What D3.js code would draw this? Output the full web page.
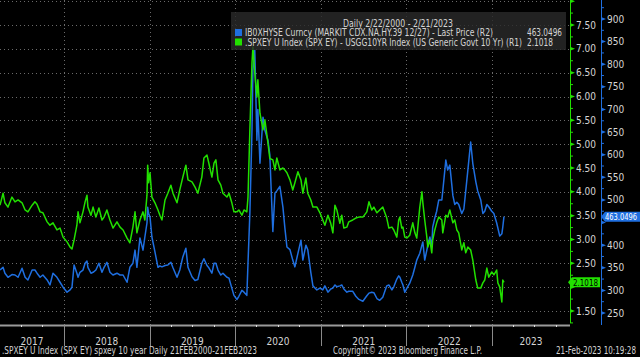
<!DOCTYPE html>
<html><head><meta charset="utf-8">
<script src="https://cdn.jsdelivr.net/npm/d3@7/dist/d3.min.js"></script>
<style>
html,body{margin:0;padding:0;background:#000;overflow:hidden;}
svg{display:block;}
text{font-family:"Liberation Sans Narrow","Arial Narrow","DejaVu Sans Condensed",sans-serif;}
</style></head><body>
<svg id="c" width="640" height="357"></svg>
<script>
const dates = [
"2017-04-03","2017-04-16","2017-04-24","2017-05-07","2017-05-24","2017-06-06","2017-06-19","2017-07-06","2017-07-19","2017-07-31","2017-08-18","2017-08-30","2017-09-08","2017-09-21","2017-10-03","2017-10-21","2017-11-02","2017-11-15","2017-12-02","2017-12-15","2017-12-28",
"2018-01-14","2018-01-27","2018-02-04","2018-02-13","2018-02-25","2018-03-02","2018-03-10","2018-03-23","2018-04-01","2018-04-09","2018-04-13","2018-04-26","2018-05-05","2018-05-17","2018-05-30","2018-06-12","2018-06-21","2018-07-03","2018-07-16","2018-07-29","2018-08-15","2018-08-28","2018-09-10","2018-09-27","2018-10-09","2018-10-22","2018-10-31","2018-11-08","2018-11-21","2018-12-04","2018-12-12","2018-12-21","2018-12-24","2018-12-28",
"2019-01-03","2019-01-11","2019-01-24","2019-02-06","2019-02-14","2019-02-23","2019-03-08","2019-03-20","2019-04-02","2019-04-11","2019-04-28","2019-05-10","2019-05-23","2019-06-05","2019-06-14","2019-07-01","2019-07-14","2019-07-26","2019-08-12","2019-08-21","2019-09-03","2019-09-11","2019-09-24","2019-10-03","2019-10-11","2019-10-20","2019-11-01","2019-11-10","2019-11-27","2019-12-06","2019-12-18","2019-12-27",
"2020-01-09","2020-01-17","2020-01-30","2020-02-08","2020-02-20","2020-02-25","2020-03-04","2020-03-13","2020-03-17","2020-03-25","2020-04-03","2020-04-07","2020-04-16","2020-04-29","2020-05-07","2020-05-20","2020-05-28","2020-06-10","2020-06-19","2020-06-27","2020-07-10","2020-07-23","2020-07-31","2020-08-09","2020-08-22","2020-09-03","2020-09-12","2020-09-25","2020-10-08","2020-10-16","2020-10-29","2020-11-06","2020-11-19","2020-11-28","2020-12-15","2020-12-28",
"2021-01-09","2021-01-18","2021-01-31","2021-02-12","2021-02-21","2021-03-02","2021-03-10","2021-03-23","2021-03-31","2021-04-09","2021-04-22","2021-04-30","2021-05-17","2021-05-30","2021-06-12","2021-06-29","2021-07-16","2021-07-25","2021-08-06","2021-08-15","2021-08-28","2021-09-09","2021-09-22","2021-10-09","2021-10-18","2021-10-31","2021-11-08","2021-11-21","2021-11-29","2021-12-04","2021-12-12","2021-12-17","2021-12-25",
"2022-01-03","2022-01-15","2022-01-28","2022-02-06","2022-02-14","2022-02-27","2022-03-08","2022-03-12","2022-03-20","2022-03-29","2022-04-02","2022-04-11","2022-04-19","2022-04-23","2022-05-02","2022-05-10","2022-05-19","2022-06-01","2022-06-05","2022-06-18","2022-06-26","2022-07-05","2022-07-18","2022-07-26","2022-08-04","2022-08-12","2022-08-25","2022-09-03","2022-09-11","2022-09-20","2022-10-02","2022-10-11","2022-10-24","2022-11-01","2022-11-14","2022-11-23","2022-12-01","2022-12-10","2022-12-18","2022-12-31",
"2023-01-09","2023-01-21","2023-01-26","2023-02-03","2023-02-12","2023-02-16","2023-02-21"
];
// .SPXEY U Index (SPX EY) - USGG10YR Index (R1)
const spreadValues = [
3.72,3.97,3.77,3.68,3.89,3.79,3.83,3.77,3.62,3.58,3.72,3.79,3.74,3.58,3.56,3.37,3.30,3.35,3.20,3.24,3.05,
2.95,2.84,2.80,2.99,3.30,3.58,3.35,3.58,3.79,3.93,3.68,3.51,3.68,3.47,3.66,3.41,3.47,3.62,3.41,3.24,3.37,3.26,3.20,3.03,2.93,3.26,3.58,3.14,3.41,3.58,3.41,3.93,4.56,4.19,
4.40,3.89,3.77,3.62,3.51,3.41,3.83,3.97,4.14,3.97,3.77,4.04,4.31,4.56,4.25,4.21,4.10,3.97,4.31,4.71,4.77,4.60,4.31,4.60,4.67,4.25,4.14,3.97,3.89,3.97,3.77,3.58,
3.58,3.62,3.51,3.62,3.58,3.89,5.30,6.70,7.04,6.49,5.99,6.35,5.65,5.30,5.51,5.03,4.70,4.67,4.46,4.71,4.46,4.50,4.46,4.40,4.25,4.04,4.19,4.42,4.25,3.97,4.29,3.97,3.83,3.68,3.68,3.56,
3.41,3.30,3.51,3.34,3.14,3.72,3.62,3.34,3.51,3.24,3.26,3.37,3.41,3.45,3.47,3.47,3.58,3.79,3.62,3.68,3.56,3.62,3.68,3.45,3.24,3.26,3.20,3.05,3.41,3.47,3.24,3.26,3.05,
3.03,3.09,3.35,3.14,3.03,3.68,4.00,3.77,3.41,3.05,2.84,2.99,2.72,2.99,3.20,3.35,3.47,3.41,3.14,3.51,3.47,3.62,3.35,3.41,3.20,3.14,2.78,2.93,2.72,2.84,2.78,2.57,2.15,1.98,1.98,2.09,2.15,2.40,2.21,2.32,
2.26,2.36,2.09,2.00,1.69,2.15,2.1018
];
// IB0XHYSE Curncy - Last Price (R2)
const cdxValues = [
345,351,338,329,335,334,329,349,329,323,345,345,338,329,334,323,312,338,329,318,307,
296,301,307,356,338,329,340,345,360,365,351,338,340,345,360,340,351,362,340,334,338,334,334,318,351,360,389,351,416,389,418,449,484,470,
462,418,385,351,354,352,355,356,362,350,329,345,374,393,351,330,322,324,360,370,355,350,338,360,360,345,334,338,329,327,305,289,
280,287,300,296,289,360,471,654,787,831,632,700,581,683,654,632,600,430,515,520,530,484,440,396,390,367,352,382,411,367,400,390,340,310,301,305,
301,310,296,303,305,312,308,310,312,303,296,298,298,287,280,276,288,294,296,295,282,278,285,310,312,301,308,325,332,329,318,312,296,
305,316,334,351,367,382,400,407,367,389,400,418,396,440,460,475,500,500,520,588,566,577,510,490,495,490,470,480,520,566,628,581,540,520,500,470,475,490,485,475,
470,449,438,420,425,440,463.0496
];
const spreadTicks = [1.5,2.0,2.5,3.0,3.5,4.0,4.5,5.0,5.5,6.0,6.5,7.0,7.5,8.0];
const spreadMinor = [1.25,1.75,2.25,2.75,3.25,3.75,4.25,4.75,5.25,5.75,6.25,6.75,7.25,7.75];
const cdxTicks = [250,300,350,400,450,500,550,600,650,700,750,800,850,900];
const cdxMinor = [275,325,375,425,475,525,575,625,675,725,775,825,875,925];
const yearLabels = ["2017","2018","2019","2020","2021","2022","2023"];
const legendTitle = "Daily 2/22/2000 - 2/21/2023";
const legendItems = [
  {name:"IB0XHYSE Curncy (MARKIT CDX.NA.HY.39 12/27) - Last Price (R2)", last:"463.0496", color:"#1f6fe0"},
  {name:".SPXEY U Index (SPX EY) - USGG10YR Index (US Generic Govt 10 Yr) (R1)", last:"2.1018", color:"#22e000"}
];
const footerLeft = ".SPXEY U Index (SPX EY) spxey 10 year  Daily 21FEB2000-21FEB2023";
const footerMid = "Copyright\u00A9 2023 Bloomberg Finance L.P.";
const footerRight = "21-Feb-2023 10:19:28";

const parse = d3.timeParse("%Y-%m-%d");
const BLUE = "#1f6fe0", GREEN = "#22e000", TXT = "#d4d4d4";
const svg = d3.select("#c");
const plotR = 570, plotB = 325;

const x = d3.scaleTime().domain([new Date(2018,0,1), new Date(2023,0,1)]).range([64, 492]);
const yG = d3.scaleLinear().domain([1.5, 7.5]).range([311, 25]);
const yB = d3.scaleLinear().domain([250, 900]).range([313, 19]);

// fit a text to a measured width (Bloomberg's terminal font is very narrow)
function fit(sel, w){ return sel.attr("textLength", w).attr("lengthAdjust","spacingAndGlyphs"); }

svg.append("rect").attr("width",640).attr("height",357).attr("fill","#000");

// horizontal grid
svg.append("g").selectAll("line").data(spreadTicks).join("line")
  .attr("x1",0).attr("x2",plotR).attr("y1",d=>Math.round(yG(d))+0.5).attr("y2",d=>Math.round(yG(d))+0.5)
  .attr("stroke","#6a6a6a").attr("stroke-width",1).attr("stroke-dasharray","1,3");
// vertical grid at year boundaries
const yearStarts = d3.range(2018, 2024).map(yr => new Date(yr,0,1));
svg.append("g").selectAll("line").data(yearStarts).join("line")
  .attr("x1",d=>Math.round(x(d))+0.5).attr("x2",d=>Math.round(x(d))+0.5).attr("y1",0).attr("y2",plotB)
  .attr("stroke","#6a6a6a").attr("stroke-width",1).attr("stroke-dasharray","1,3");

// series
const rows = dates.map((d,i)=>({date:parse(d), g:spreadValues[i], b:cdxValues[i]}));
svg.append("path").datum(rows).attr("fill","none").attr("stroke",BLUE).attr("stroke-width",1.5)
  .attr("stroke-linejoin","round")
  .attr("d", d3.line().x(d=>x(d.date)).y(d=>yB(d.b)));
svg.append("path").datum(rows).attr("fill","none").attr("stroke",GREEN).attr("stroke-width",1.5)
  .attr("stroke-linejoin","round")
  .attr("d", d3.line().x(d=>x(d.date)).y(d=>yG(d.g)));

// bottom axis
svg.append("line").attr("x1",0).attr("x2",plotR).attr("y1",plotB+0.5).attr("y2",plotB+0.5)
  .attr("stroke","#9a9a9a").attr("stroke-width",2);
const quarters = d3.timeMonth.every(3).range(x.invert(0), x.invert(plotR)).filter(d=>d.getMonth()!==0);
svg.append("g").selectAll("line").data(quarters).join("line")
  .attr("x1",d=>Math.round(x(d))+0.5).attr("x2",d=>Math.round(x(d))+0.5).attr("y1",plotB).attr("y2",plotB+2)
  .attr("stroke","#e0e0e0");
svg.append("g").selectAll("line").data(yearStarts).join("line")
  .attr("x1",d=>Math.round(x(d))+0.5).attr("x2",d=>Math.round(x(d))+0.5).attr("y1",plotB).attr("y2",346)
  .attr("stroke","#8a8a8a");
const yearBounds = [x.invert(0), ...yearStarts, x.invert(plotR)];
svg.append("g").selectAll("text").data(yearLabels).join("text")
  .attr("x",(d,i)=>(x(yearBounds[i])+x(yearBounds[i+1]))/2).attr("y",344.5)
  .attr("text-anchor","middle").attr("fill",TXT).attr("font-size",10).text(d=>d);

// right axis R1 (green)
svg.append("line").attr("x1",plotR+0.5).attr("x2",plotR+0.5).attr("y1",0).attr("y2",323).attr("stroke",GREEN).attr("stroke-width",1);
svg.append("g").selectAll("path").data(spreadTicks).join("path")
  .attr("d",d=>{const yy=yG(d);return `M${plotR},${yy-2}L${plotR+5},${yy}L${plotR},${yy+2}Z`;}).attr("fill",GREEN);
svg.append("g").selectAll("line").data(spreadMinor).join("line")
  .attr("x1",plotR).attr("x2",plotR+3).attr("y1",d=>yG(d)).attr("y2",d=>yG(d)).attr("stroke",GREEN);
svg.append("g").selectAll("text").data(spreadTicks.filter(d=>d<8 && d!==2.0)).join("text")
  .attr("x",576).attr("y",d=>yG(d)+3.5).attr("fill",TXT).attr("font-size",10).text(d=>d.toFixed(2));

// right axis R2 (blue)
svg.append("line").attr("x1",601.5).attr("x2",601.5).attr("y1",0).attr("y2",325).attr("stroke",BLUE).attr("stroke-width",1);
svg.append("g").selectAll("path").data(cdxTicks).join("path")
  .attr("d",d=>{const yy=yB(d);return `M601,${yy-2}L606,${yy}L601,${yy+2}Z`;}).attr("fill",BLUE);
svg.append("g").selectAll("line").data(cdxMinor).join("line")
  .attr("x1",601).attr("x2",604).attr("y1",d=>yB(d)).attr("y2",d=>yB(d)).attr("stroke",BLUE);
svg.append("g").selectAll("text").data(cdxTicks.filter(d=>d!==450)).join("text")
  .attr("x",607).attr("y",d=>yB(d)+3.5).attr("fill",TXT).attr("font-size",10).text(d=>d);

// last value tags (they cover the 450 and 2.00 tick labels, as on the terminal)
const lastB = cdxValues[cdxValues.length-1], lastG = spreadValues[spreadValues.length-1];
const tb = yB(lastB);
svg.append("path").attr("d",`M601,${tb}L605,${tb-5}L640,${tb-5}L640,${tb+5}L605,${tb+5}Z`).attr("fill",BLUE);
fit(svg.append("text").attr("x",605).attr("y",tb+3.5).attr("fill","#fff").attr("font-size",9.5).text(lastB.toFixed(4)),32);
const tg = yG(lastG);
svg.append("path").attr("d",`M568,${tg}L572,${tg-5}L600,${tg-5}L600,${tg+5}L572,${tg+5}Z`).attr("fill",GREEN);
fit(svg.append("text").attr("x",573).attr("y",tg+3.5).attr("fill","#000").attr("font-size",9.5).text(lastG.toFixed(4)),25);

// legend
const lg = svg.append("g");
lg.append("rect").attr("x",231).attr("y",12).attr("width",335).attr("height",38).attr("fill","rgba(42,42,42,0.82)");
fit(lg.append("text").attr("x",343).attr("y",26.5).attr("fill",TXT).attr("font-size",10).text(legendTitle),110);
const rowW = [248, 277], lastW = [35, 26];
legendItems.forEach((it,i)=>{
  const yy = 29 + i*9.5;
  lg.append("rect").attr("x",235).attr("y",yy).attr("width",7).attr("height",7).attr("fill",it.color);
  fit(lg.append("text").attr("x",245).attr("y",yy+7).attr("fill",TXT).attr("font-size",10).text(it.name), rowW[i]);
  fit(lg.append("text").attr("x",527).attr("y",yy+7).attr("fill",TXT).attr("font-size",10).text(it.last), lastW[i]);
});

// footer
fit(svg.append("text").attr("x",2).attr("y",354).attr("fill",TXT).attr("font-size",10).text(footerLeft),255);
fit(svg.append("text").attr("x",333).attr("y",354).attr("fill",TXT).attr("font-size",10).text(footerMid),149);
fit(svg.append("text").attr("x",556).attr("y",354).attr("fill",TXT).attr("font-size",10).text(footerRight),80);
</script>
</body></html>
